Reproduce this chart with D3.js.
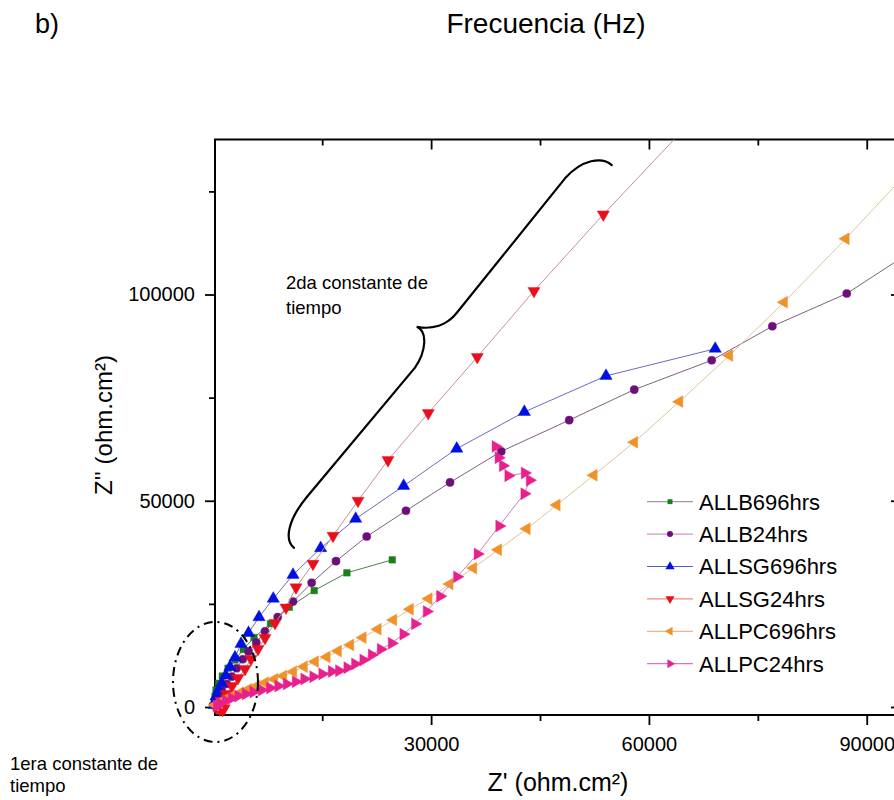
<!DOCTYPE html>
<html>
<head>
<meta charset="utf-8">
<script src="https://cdn.jsdelivr.net/npm/d3@7"></script>
<style>
body { margin: 0; background: #fff; }
text { font-family: "Liberation Sans", Arial, sans-serif; fill: #000; }
</style>
</head>
<body>
<script>
// data, [Z', Z''] in ohm.cm2
var allb696 = [[170,1200],[230,2500],[370,4100],[720,5750],[1240,7500],[2030,9400],[2990,11400],[4130,13950],[5600,16850],[7880,20200],[10470,24200],[13900,28230],[18400,32530],[24650,35680]]
var allb24 = [[165,360],[300,1090],[690,2500],[1160,3960],[1850,5580],[2530,7350],[3220,9390],[4050,11580],[4850,13470],[5920,15650],[7120,18320],[8870,21800],[10980,25560],[13550,30100],[16900,35360],[21130,41330],[26540,47570],[32600,54440],[39660,61970],[49020,69540],[57980,76940],[68650,84050],[77000,92300],[87250,100240],[98700,113350]]
var allsg696 = [[165,480],[230,1330],[370,2550],[720,4130],[1160,5750],[1710,7650],[2300,9710],[2990,12010],[3820,15290],[4850,17960],[6300,21770],[8260,26260],[10980,32040],[14790,38520],[19610,45630],[26220,53600],[33530,62620],[42840,71530],[54090,80270],[69130,86840]]
var allsg24 = [[250,150],[500,-250],[900,-600],[1300,-700],[1500,-300],[1200,400],[1060,1460],[1750,3150],[2580,5100],[3400,7040],[4370,9220],[5190,11650],[6160,14080],[7120,16750],[8500,20360],[10010,24110],[11390,29000],[13730,34710],[16490,41500],[19930,50000],[24060,59850],[29610,71250],[36360,84850],[44170,100870],[53720,119420],[65300,141000]]
var allpc696 = [[230,480],[790,1040],[1610,1870],[2620,2670],[3680,3470],[4820,4300],[5980,5100],[7120,5900],[8400,6720],[9640,7520],[11020,8570],[12490,9780],[14010,11000],[15620,12140],[17180,13590],[18870,15050],[20580,16820],[22650,18860],[24790,21120],[27090,23710],[29660,26260],[32550,29810],[35810,33670],[39240,38110],[43180,43200],[47300,48960],[52400,56190],[57980,64200],[64190,74030],[71070,85200],[78610,98130],[87110,113520],[96600,131500]]
var allpc24 = [[470,240],[920,900],[1710,1530],[2530,2110],[3440,2670],[4460,3160],[5510,3640],[6670,4130],[7810,4610],[8950,5100],[10110,5580],[11350,6140],[12530,6800],[13770,7350],[15010,8010],[16310,8620],[17310,8810],[18460,9540],[19520,10440],[20660,11410],[21820,12620],[23060,14000],[24570,15460],[26170,17650],[27780,20150],[29390,23130],[31230,26870],[33570,31550],[36390,37090],[39380,43880],[42840,51700],[43580,54980],[42890,56720],[40630,56070],[39880,58500],[39280,60440],[38870,63180]]

var seriesNames = ["ALLB696hrs", "ALLB24hrs", "ALLSG696hrs", "ALLSG24hrs", "ALLPC696hrs", "ALLPC24hrs"]
var seriesData = [allb696, allb24, allsg696, allsg24, allpc696, allpc24]

var xMajor = [30000, 60000, 90000]
var xMinor = [15000, 45000, 75000]
var yMajor = [0, 50000, 100000]
var yMinor = [25000, 75000, 125000]

var styles = [
	{ mark: "#1d7d1d", line: "#4f7f4f", legLine: "#9a9a9a", sym: d3.symbolSquare, rot: 0, size: 44 },
	{ mark: "#6c0f78", line: "#806080", legLine: "#c89ac8", sym: d3.symbolCircle, rot: 0, size: 52 },
	{ mark: "#0010e0", line: "#6a6ac8", legLine: "#5a5ad0", sym: d3.symbolTriangle, rot: 0, size: 66 },
	{ mark: "#e8101c", line: "#c89090", legLine: "#f08a8a", sym: d3.symbolTriangle, rot: 180, size: 64 },
	{ mark: "#f0922a", line: "#e2c49a", legLine: "#e8b888", sym: d3.symbolTriangle, rot: -90, size: 62 },
	{ mark: "#e8208c", line: "#c884b8", legLine: "#d878b8", sym: d3.symbolTriangle, rot: 90, size: 62 }
]

var W = 894, H = 800
var frame = { left: 215, right: 901, top: 139.5, bottom: 715 }

var svg = d3.select("body").append("svg")
	.attr("width", W)
	.attr("height", H)

var x = d3.scaleLinear().domain([234, 94720]).range([frame.left, frame.right])
var y = d3.scaleLinear().domain([-1940, 137580]).range([frame.bottom, frame.top])

// axes
function styleAxis(g) {
	g.select(".domain").remove()
	g.selectAll("line").attr("stroke", "#000").attr("stroke-width", 1.8)
	g.selectAll("text").attr("font-size", 20).attr("font-family", '"Liberation Sans", Arial, sans-serif').attr("fill", "#000")
}

svg.append("g").attr("transform", "translate(0," + frame.bottom + ")")
	.call(d3.axisBottom(x).tickValues(xMajor).tickSize(10).tickPadding(12).tickFormat(d3.format("d")))
	.call(styleAxis)
svg.append("g").attr("transform", "translate(0," + frame.bottom + ")")
	.call(d3.axisBottom(x).tickValues(xMinor).tickSize(6).tickFormat(""))
	.call(styleAxis)
svg.append("g").attr("transform", "translate(0," + frame.top + ")")
	.call(d3.axisBottom(x).tickValues(xMajor).tickSize(10).tickFormat(""))
	.call(styleAxis)
svg.append("g").attr("transform", "translate(0," + frame.top + ")")
	.call(d3.axisBottom(x).tickValues(xMinor).tickSize(6).tickFormat(""))
	.call(styleAxis)

svg.append("g").attr("transform", "translate(" + frame.left + ",0)")
	.call(d3.axisLeft(y).tickValues(yMajor).tickSize(10).tickPadding(10).tickFormat(d3.format("d")))
	.call(styleAxis)
svg.append("g").attr("transform", "translate(" + frame.left + ",0)")
	.call(d3.axisLeft(y).tickValues(yMinor).tickSize(6).tickFormat(""))
	.call(styleAxis)
svg.append("g").attr("transform", "translate(" + frame.right + ",0)")
	.call(d3.axisLeft(y).tickValues(yMajor).tickSize(10).tickFormat(""))
	.call(styleAxis)
svg.append("g").attr("transform", "translate(" + frame.right + ",0)")
	.call(d3.axisLeft(y).tickValues(yMinor).tickSize(6).tickFormat(""))
	.call(styleAxis)

svg.append("rect")
	.attr("x", frame.left).attr("y", frame.top)
	.attr("width", frame.right - frame.left).attr("height", frame.bottom - frame.top)
	.attr("fill", "none").attr("stroke", "#000").attr("stroke-width", 2)

// data
svg.append("clipPath").attr("id", "clip")
	.append("rect")
	.attr("x", frame.left - 8).attr("y", frame.top)
	.attr("width", frame.right - frame.left + 8).attr("height", frame.bottom - frame.top + 8)

var plot = svg.append("g").attr("clip-path", "url(#clip)")
var line = d3.line().x(function(d) { return x(d[0]) }).y(function(d) { return y(d[1]) })

seriesData.forEach(function(data, i) {
	var st = styles[i]
	var g = plot.append("g")
	g.append("path")
		.attr("d", line(data))
		.attr("fill", "none")
		.attr("stroke", st.line)
		.attr("stroke-width", 1)
	g.selectAll("path.m").data(data).enter().append("path")
		.attr("class", "m")
		.attr("d", d3.symbol().type(st.sym).size(st.size))
		.attr("transform", function(d) { return "translate(" + x(d[0]) + "," + y(d[1]) + ") rotate(" + st.rot + ")" })
		.attr("fill", st.mark)
		.attr("stroke", st.mark)
		.attr("stroke-opacity", 0.5)
		.attr("stroke-width", 0.8)
})

// legend
var legend = svg.append("g")
seriesNames.forEach(function(name, i) {
	var st = styles[i]
	var ly = 501.7 + i * 32.4
	legend.append("line")
		.attr("x1", 647).attr("x2", 693).attr("y1", ly).attr("y2", ly)
		.attr("stroke", st.legLine).attr("stroke-width", 1.2)
	legend.append("path")
		.attr("d", d3.symbol().type(st.sym).size(st.size * 0.55))
		.attr("transform", "translate(670," + ly + ") rotate(" + st.rot + ")")
		.attr("fill", st.mark)
	legend.append("text")
		.attr("x", 699).attr("y", ly).attr("dy", "0.36em")
		.attr("font-size", 22)
		.text(name)
})

// annotations: curly brace (segments in data units) and dash-dot ellipse
var brace = [
	["M", [54880,131380]],
	["C", [53540,133500], [50790,132770], [48440,128160]],
	["L", [33570,95630]],
	["C", [32190,92480], [30120,91500], [28020,92160]],
	["C", [29570,91020], [29300,86170], [27780,82280]],
	["L", [12910,50970]],
	["C", [10290,45390], [9740,40530], [11120,38590]]
]
var braceD = brace.map(function(seg) {
	return seg[0] + seg.slice(1).map(function(p) { return x(p[0]) + "," + y(p[1]) }).join(" ")
}).join("")
svg.append("path")
	.attr("d", braceD)
	.attr("fill", "none")
	.attr("stroke", "#000")
	.attr("stroke-width", 2.2)
	.attr("stroke-linecap", "round")

var ell = { cx: 300, cy: 6070, rx: 5850, ry: 14560 }
svg.append("ellipse")
	.attr("cx", x(ell.cx)).attr("cy", y(ell.cy))
	.attr("rx", x(ell.cx + ell.rx) - x(ell.cx))
	.attr("ry", y(ell.cy) - y(ell.cy + ell.ry))
	.attr("fill", "none")
	.attr("stroke", "#000")
	.attr("stroke-width", 2)
	.attr("stroke-dasharray", "9,5,2,5")

// texts
svg.append("text").attr("x", 35).attr("y", 33).attr("font-size", 27).text("b)")
svg.append("text").attr("x", 546).attr("y", 33).attr("font-size", 28).attr("text-anchor", "middle").text("Frecuencia (Hz)")
svg.append("text").attr("x", 558).attr("y", 791).attr("font-size", 25).attr("text-anchor", "middle").text("Z' (ohm.cm²)")
svg.append("text").attr("transform", "translate(112,425) rotate(-90)").attr("font-size", 24).attr("text-anchor", "middle").text("Z'' (ohm.cm²)")

svg.append("text").attr("x", 286).attr("y", 289).attr("font-size", 18.5).text("2da constante de")
svg.append("text").attr("x", 286).attr("y", 314).attr("font-size", 18.5).text("tiempo")
svg.append("text").attr("x", 10).attr("y", 770).attr("font-size", 18.5).text("1era constante de")
svg.append("text").attr("x", 10).attr("y", 792).attr("font-size", 18.5).text("tiempo")
</script>
</body>
</html>
